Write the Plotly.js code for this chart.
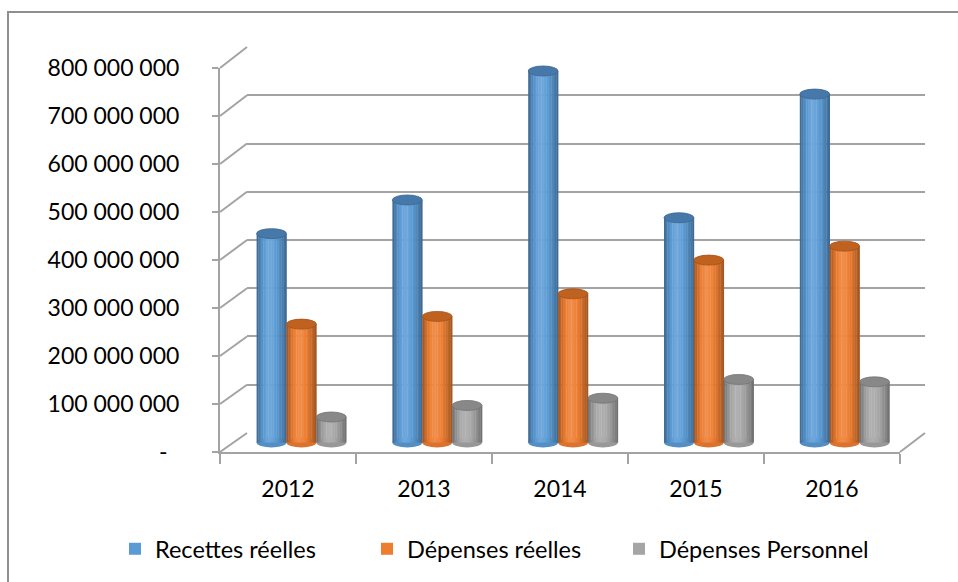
<!DOCTYPE html>
<html>
<head>
<meta charset="utf-8">
<script src="https://cdn.plot.ly/plotly-3.0.1.min.js"></script>
<style>
  html, body { margin: 0; padding: 0; background: #ffffff; }
  #chart { width: 958px; height: 582px; }
</style>
</head>
<body>
<div id="chart"></div>
<script>
// ---- data ----
const years = ['2012', '2013', '2014', '2015', '2016'];
const recettesReelles = [434e6, 504e6, 772e6, 467e6, 724e6];
const depensesReelles = [246e6, 262e6, 309e6, 379e6, 408e6];
const depensesPersonnel = [53e6, 77e6, 92e6, 131e6, 126e6];
const seriesNames = ['Recettes réelles', 'Dépenses réelles', 'Dépenses Personnel'];
const tickValues = [0, 100e6, 200e6, 300e6, 400e6, 500e6, 600e6, 700e6, 800e6];
const tickLabels = ['-\u00a0\u00a0', '100 000 000', '200 000 000', '300 000 000',
  '400 000 000', '500 000 000', '600 000 000', '700 000 000', '800 000 000'];

// ---- styling ----
const W = 958, H = 582;
const px = x => x / W;
const py = y => 1 - y / H;
const FONT = 'Lato, "Open Sans", sans-serif';
const GRID = '#a3a3a3';
const YMAX = 800e6;

// box of the 3D frame, in pixels: front face, back wall and the middle plane holding the columns
const front = { left: 220, right: 900, top: 68, bottom: 452 };
const back = { left: 247, right: 925, top: 47, bottom: 433 };
const mid = { left: 233.5, right: 912.5, top: 57.5, bottom: 442.5 };

const seriesValues = [recettesReelles, depensesReelles, depensesPersonnel];
const bodyColors = ['#5b9bd5', '#ed7d31', '#a5a5a5'];
const capColors = ['#4778aa', '#c0621f', '#888888'];

// light across the round face of a column: dark edges, highlight left of centre
const STRIPES = 18;
function light(t) {
  const peak = 0.42;
  const d = t < peak ? (peak - t) / peak : (t - peak) / (1 - peak);
  return 1.1 - 0.44 * Math.pow(d, 1.6);
}

function shade(hex, f) {
  const n = parseInt(hex.slice(1), 16);
  let c = [(n >> 16) & 255, (n >> 8) & 255, n & 255];
  c = c.map(v => f <= 1 ? v * f : v + (255 - v) * (f - 1) * 1.2);
  return 'rgb(' + c.map(v => Math.max(0, Math.min(255, Math.round(v)))).join(',') + ')';
}

const barWidth = 0.22;
const barCenters = [-0.22, 0, 0.22];
const stripeW = barWidth / STRIPES;

// y range of the column plane, padded so the rounded bases are not clipped
const pxPerUnit = (mid.bottom - mid.top) / YMAX;
const pad = 20e6;
const colDomain = [py(mid.bottom + pad * pxPerUnit), py(mid.top - pad * pxPerUnit)];
const capHalf = 5 / pxPerUnit;

const traces = [];

// back wall: only gridlines
traces.push({ type: 'scatter', mode: 'none', x: [0], y: [0], xaxis: 'x', yaxis: 'y',
  showlegend: false, hoverinfo: 'skip' });

// cylinders, drawn as thin shaded strips
seriesValues.forEach((vals, s) => {
  for (let k = 0; k < STRIPES; k++) {
    const t = (k + 0.5) / STRIPES;
    traces.push({
      type: 'bar',
      x: years,
      y: vals,
      xaxis: 'x2', yaxis: 'y2',
      name: seriesNames[s],
      legendgroup: 's' + s,
      showlegend: false,
      offset: barCenters[s] - barWidth / 2 + k * stripeW,
      width: stripeW * 1.2,
      marker: { color: shade(bodyColors[s], light(t)), line: { width: 0 } },
      hovertemplate: '%{x}: %{y:,.0f}<extra>' + seriesNames[s] + '</extra>',
      cliponaxis: false
    });
  }
});

// legend entries in the flat series colours
seriesValues.forEach((vals, s) => {
  traces.push({
    type: 'bar', x: years, y: vals, xaxis: 'x2', yaxis: 'y2',
    name: seriesNames[s], legendgroup: 's' + s, showlegend: true,
    offset: 0, width: 0, marker: { color: bodyColors[s], line: { width: 0 } },
    hoverinfo: 'skip'
  });
});

// front axes carrying the labels
traces.push({ type: 'scatter', mode: 'none', x: years, y: recettesReelles, xaxis: 'x3', yaxis: 'y3',
  showlegend: false, hoverinfo: 'skip' });

const shapes = [];

// column caps (top) and rounded bases
seriesValues.forEach((vals, s) => {
  vals.forEach((v, i) => {
    const x0 = i + barCenters[s] - barWidth / 2;
    const x1 = x0 + barWidth;
    shapes.push({ type: 'circle', xref: 'x2', yref: 'y2', layer: 'below',
      x0: x0, x1: x1, y0: -capHalf, y1: capHalf,
      fillcolor: shade(bodyColors[s], 0.92), line: { width: 0 } });
    shapes.push({ type: 'circle', xref: 'x2', yref: 'y2', layer: 'above',
      x0: x0, x1: x1, y0: v - capHalf, y1: v + capHalf,
      fillcolor: capColors[s], line: { width: 0.8, color: shade(capColors[s], 0.85) } });
  });
});

// side wall: joins each front tick to its back-wall gridline
tickValues.forEach(v => {
  const yf = front.bottom - v / YMAX * (front.bottom - front.top);
  const yb = back.bottom - v / YMAX * (back.bottom - back.top);
  shapes.push({ type: 'line', xref: 'paper', yref: 'paper', layer: 'below',
    x0: px(front.left), y0: py(yf), x1: px(back.left), y1: py(yb),
    line: { color: GRID, width: 2 } });
});
// right edge of the floor
shapes.push({ type: 'line', xref: 'paper', yref: 'paper', layer: 'below',
  x0: px(front.right), y0: py(front.bottom), x1: px(back.right), y1: py(back.bottom),
  line: { color: GRID, width: 2 } });
// chart frame
shapes.push({ type: 'rect', xref: 'paper', yref: 'paper', layer: 'below',
  x0: px(8), y0: py(12), x1: px(W + 20), y1: py(H + 20),
  line: { color: '#8f8f8f', width: 2 }, fillcolor: 'rgba(0,0,0,0)' });

const layout = {
  width: W, height: H,
  margin: { l: 0, r: 0, t: 0, b: 0, pad: 0, autoexpand: false },
  paper_bgcolor: '#ffffff',
  plot_bgcolor: 'rgba(0,0,0,0)',
  font: { family: FONT, size: 23, color: '#000000' },
  barmode: 'overlay',
  showlegend: true,
  legend: {
    orientation: 'h', x: px(115), xanchor: 'left', y: py(527), yanchor: 'top',
    font: { family: FONT, size: 23.5, color: '#000000' },
    entrywidth: 207, entrywidthmode: 'pixels', traceorder: 'normal',
    bgcolor: 'rgba(0,0,0,0)'
  },
  // back wall
  xaxis: { domain: [px(back.left), px(back.right)], range: [0, 1], visible: false, anchor: 'y' },
  yaxis: { domain: [py(back.bottom), py(back.top)], range: [-0.5e6, 800.5e6], anchor: 'x',
    tickvals: tickValues, showticklabels: false, ticks: '', showgrid: true,
    gridcolor: GRID, gridwidth: 2, zeroline: false, showline: false },
  // column plane
  xaxis2: { domain: [px(mid.left), px(mid.right)], type: 'category', categoryarray: years,
    range: [-0.5, 4.5], visible: false, anchor: 'y2' },
  yaxis2: { domain: colDomain, range: [-pad, YMAX + pad], visible: false, anchor: 'x2' },
  // front face with the labels
  xaxis3: { domain: [px(front.left), px(front.right)], type: 'category', categoryarray: years,
    range: [-0.5, 4.5], anchor: 'y3', showline: true, linecolor: GRID, linewidth: 2,
    ticks: 'outside', tickson: 'boundaries', ticklen: 10, tickwidth: 2, tickcolor: GRID,
    showgrid: false, zeroline: false, ticklabelstandoff: 15,
    tickfont: { family: FONT, size: 23, color: '#000000' } },
  yaxis3: { domain: [py(front.bottom), py(front.top)], range: [0, YMAX], anchor: 'x3',
    tickvals: tickValues, ticktext: tickLabels, showline: true, linecolor: GRID, linewidth: 2,
    ticks: 'outside', ticklen: 6, tickwidth: 2, tickcolor: GRID, showgrid: false, zeroline: false,
    ticklabelstandoff: 28, tickfont: { family: FONT, size: 23, color: '#000000' } },
  shapes: shapes
};

Plotly.newPlot('chart', traces, layout, { displayModeBar: false, staticPlot: true });
</script>
</body>
</html>
